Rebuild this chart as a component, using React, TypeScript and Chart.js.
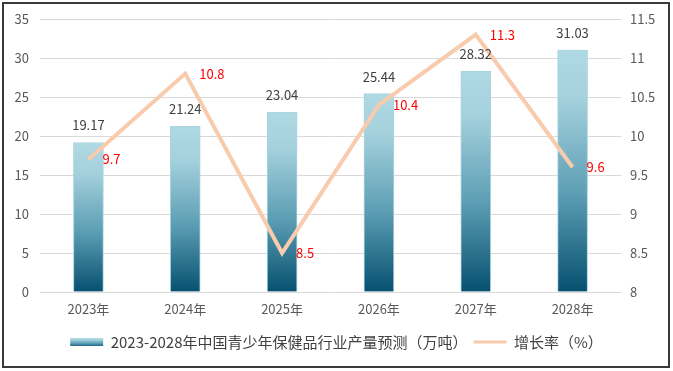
import React, { useEffect, useRef } from "react";
import { Chart, registerables } from "chart.js";

Chart.register(...registerables);

const categories = ["2023年", "2024年", "2025年", "2026年", "2027年", "2028年"];
const outputValues = [19.17, 21.24, 23.04, 25.44, 28.32, 31.03];
const growthRates = [9.7, 10.8, 8.5, 10.4, 11.3, 9.6];
const barLabel = "2023-2028年中国青少年保健品行业产量预测（万吨）";
const lineLabel = "增长率（%）";

const FONT = "'Noto Sans CJK SC', 'Noto Sans', sans-serif";

function makeBarGradient(ctx: CanvasRenderingContext2D, top: number, bottom: number) {
  const g = ctx.createLinearGradient(0, top, 0, bottom);
  g.addColorStop(0, "#AFD9E3");
  g.addColorStop(0.2, "#A5D1DD");
  g.addColorStop(0.6, "#5B9DB3");
  g.addColorStop(1, "#06506F");
  return g;
}

const labelPlugin = {
  id: "valueLabels",
  afterDatasetsDraw(chart: any) {
    const ctx = chart.ctx;
    ctx.save();
    ctx.font = `13px ${FONT}`;
    ctx.textBaseline = "middle";
    const barMeta = chart.getDatasetMeta(0);
    ctx.fillStyle = "#404040";
    ctx.textAlign = "center";
    barMeta.data.forEach((el: any, i: number) => {
      ctx.fillText(outputValues[i].toFixed(2), el.x, el.y - 17);
    });
    const lineMeta = chart.getDatasetMeta(1);
    ctx.fillStyle = "#FF0000";
    ctx.textAlign = "left";
    lineMeta.data.forEach((el: any, i: number) => {
      ctx.fillText(growthRates[i].toFixed(1), el.x + 14, el.y);
    });
    ctx.restore();
  },
};

export default function App() {
  const canvasRef = useRef<HTMLCanvasElement | null>(null);

  useEffect(() => {
    if (!canvasRef.current) return;
    const chart = new Chart(canvasRef.current, {
      type: "bar",
      data: {
        labels: categories,
        datasets: [
          {
            type: "bar",
            label: barLabel,
            data: outputValues,
            yAxisID: "y",
            order: 2,
            barThickness: 30,
            borderWidth: 1,
            borderColor: "#A9D5E0",
            backgroundColor: (c: any) => {
              const ch = c.chart;
              const area = ch.chartArea;
              if (!area || c.raw == null) return "#5B9DB3";
              const top = ch.scales.y.getPixelForValue(c.raw);
              return makeBarGradient(ch.ctx, top, area.bottom);
            },
          },
          {
            type: "line",
            label: lineLabel,
            data: growthRates,
            yAxisID: "y1",
            order: 1,
            borderColor: "#F8CBAD",
            backgroundColor: "#F8CBAD",
            borderWidth: 4,
            pointRadius: 0,
            tension: 0,
          },
        ],
      },
      options: {
        animation: false,
        responsive: false,
        maintainAspectRatio: false,
        layout: { padding: { top: 19, bottom: 11.5, left: 0, right: 0 } },
        plugins: {
          tooltip: { enabled: false },
          legend: {
            position: "bottom",
            labels: {
              usePointStyle: true,
              pointStyleWidth: 33,
              boxHeight: 8,
              padding: 6,
              color: "#404040",
              font: { family: FONT, size: 15 },
              generateLabels: (ch: any) => {
                const g = makeBarGradient(ch.ctx, 338, 347);
                return [
                  {
                    text: barLabel,
                    fillStyle: g,
                    strokeStyle: g,
                    lineWidth: 0,
                    pointStyle: "rect",
                    datasetIndex: 0,
                    hidden: false,
                    fontColor: "#404040",
                  },
                  {
                    text: lineLabel,
                    fillStyle: "#F8CBAD",
                    strokeStyle: "#F8CBAD",
                    lineWidth: 3,
                    pointStyle: "line",
                    datasetIndex: 1,
                    hidden: false,
                    fontColor: "#404040",
                  },
                ];
              },
            },
          },
        },
        scales: {
          x: {
            grid: { display: false, drawTicks: false },
            border: { display: false },
            ticks: {
              color: "#595959",
              font: { family: FONT, size: 13 },
              padding: 9,
            },
            afterFit: (s: any) => {
              s.height = 36.5;
            },
          },
          y: {
            position: "left",
            min: 0,
            max: 35,
            grid: { color: "#D9D9D9", lineWidth: 1, drawTicks: false },
            border: { display: false },
            ticks: {
              stepSize: 5,
              color: "#595959",
              font: { family: FONT, size: 13 },
              padding: 11,
            },
            afterFit: (s: any) => {
              s.width = 40;
            },
          },
          y1: {
            position: "right",
            min: 8,
            max: 11.5,
            grid: { display: false, drawTicks: false },
            border: { display: false },
            ticks: {
              stepSize: 0.5,
              color: "#595959",
              font: { family: FONT, size: 13 },
              padding: 9,
              callback: (v: any) => String(Number(v)),
            },
            afterFit: (s: any) => {
              s.width = 52;
            },
          },
        },
      },
      plugins: [labelPlugin],
    } as any);
    return () => chart.destroy();
  }, []);

  return (
    <div style={{ position: "absolute", left: 0, top: 0, width: 673, height: 371, background: "#fff" }}>
      <div
        style={{
          position: "absolute",
          left: 2,
          top: 2,
          width: 664,
          height: 362,
          border: "2px solid #3a3a3a",
          boxSizing: "content-box",
          pointerEvents: "none",
        }}
      />
      <canvas ref={canvasRef} width={673} height={371} style={{ position: "absolute", left: 0, top: 0 }} />
    </div>
  );
}
